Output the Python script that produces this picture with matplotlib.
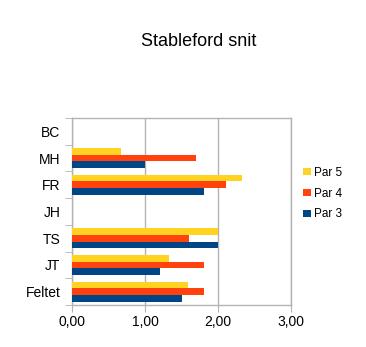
import matplotlib
matplotlib.use("Agg")
import matplotlib.pyplot as plt
import numpy as np

plt.rcParams["font.family"] = ["Liberation Sans", "DejaVu Sans"]

players = ["BC", "MH", "FR", "JH", "TS", "JT", "Feltet"]
par5 = [0, 0.67, 2.33, 0, 2.00, 1.33, 1.58]
par4 = [0, 1.70, 2.10, 0, 1.60, 1.80, 1.80]
par3 = [0, 1.00, 1.80, 0, 2.00, 1.20, 1.50]

grid_col = "#b3b3b3"
series = [("Par 5", par5, "#ffd320"), ("Par 4", par4, "#ff420e"), ("Par 3", par3, "#004586")]

fig = plt.figure(figsize=(3.66, 3.47), dpi=100)
ax = fig.add_axes([0.197, 0.121, 0.599, 0.539])

y = np.arange(len(players))
h = 0.25
for i, (name, vals, col) in enumerate(series):
    ax.barh(y + (i - 1) * h, vals, height=h, color=col, label=name, zorder=3)

ax.set_xlim(0, 3)
ax.set_ylim(len(players) - 0.5, -0.5)
ax.set_xticks([0, 1, 2, 3])
ax.set_xticklabels(["0,00", "1,00", "2,00", "3,00"], fontsize=10)
ax.set_yticks(y)
ax.set_yticklabels(players, fontsize=10)
ax.set_yticks(np.arange(len(players) + 1) - 0.5, minor=True)
ax.tick_params(axis="y", which="major", length=0, pad=8.5)
ax.tick_params(axis="y", which="minor", length=5, color=grid_col)
ax.tick_params(axis="x", length=5, color=grid_col, pad=2)
ax.grid(axis="x", color=grid_col, linewidth=1, zorder=0)
for s in ax.spines.values():
    s.set_color(grid_col)
    s.set_linewidth(1)

fig.text(0.544, 0.88, "Stableford snit", ha="center", va="center", fontsize=13)

handles, labels = ax.get_legend_handles_labels()
leg = fig.legend(handles, labels, loc="upper left", bbox_to_anchor=(0.80, 0.55),
                 frameon=False, fontsize=8.5, handlelength=0.6, handleheight=0.6,
                 handletextpad=0.3, labelspacing=0.75)

fig.savefig("out.png", dpi=100)
